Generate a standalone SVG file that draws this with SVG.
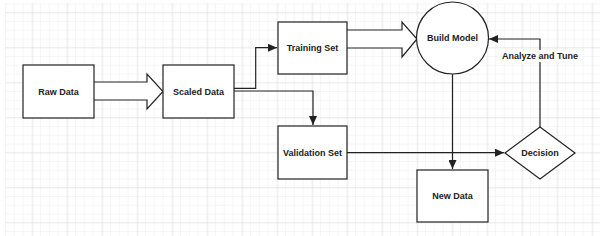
<svg xmlns="http://www.w3.org/2000/svg" width="600" height="236" viewBox="0 0 600 236">
<style>
.box{fill:#fff;stroke:#222;stroke-width:1.2}
.lbl{font-family:"Liberation Sans",Arial,sans-serif;font-size:9px;font-weight:bold;fill:#222;text-anchor:middle;dominant-baseline:central}
.con{fill:none;stroke:#222;stroke-width:1.2}
.blk{fill:#fff;stroke:#222;stroke-width:1.2;stroke-linejoin:miter}
</style>
<defs>
<pattern id="minor" x="5.05" y="3.55" width="8.75" height="8.75" patternUnits="userSpaceOnUse">
<path d="M0 0H8.75M0 0V8.75" fill="none" stroke="#eeeeee" stroke-width="1"/>
</pattern>
<pattern id="major" x="-2.7" y="12.3" width="35" height="35" patternUnits="userSpaceOnUse">
<path d="M0 0H35M0 0V35" fill="none" stroke="#dcdcdc" stroke-width="1"/>
</pattern>
<marker id="arr" markerWidth="10" markerHeight="8" refX="9" refY="4" orient="auto" markerUnits="userSpaceOnUse">
<path d="M0 0L9 4L0 8Z" fill="#222"/>
</marker>
</defs>
<rect width="600" height="236" fill="#fff"/>
<rect x="5" y="3" width="595" height="233" fill="url(#minor)"/>
<rect x="5" y="3" width="595" height="233" fill="url(#major)"/>

<g id="connectors">
<path class="blk" d="M94 82H147V74L163 91.5L147 109V100H94"/>
<path class="blk" d="M347 30H402V22L417 39L402 57V48H347"/>
<path class="con" d="M234 88.3H255.7V47.7H277" marker-end="url(#arr)"/>
<path class="con" d="M234 91H313V125" marker-end="url(#arr)"/>
<path class="con" d="M452.5 74V169" marker-end="url(#arr)"/>
<path class="con" d="M347 152.7H504" marker-end="url(#arr)"/>
<path class="con" d="M540 127V39H489" marker-end="url(#arr)"/>
<rect x="504" y="50" width="72" height="12" fill="#fff"/>
<text class="lbl" x="540" y="56">Analyze and Tune</text>
</g>

<g id="raw-data">
<rect class="box" x="23" y="65" width="71" height="53"/>
<text class="lbl" x="58.5" y="91.5">Raw Data</text>
</g>
<g id="scaled-data">
<rect class="box" x="163" y="65" width="71" height="53"/>
<text class="lbl" x="198.5" y="91.5">Scaled Data</text>
</g>
<g id="training-set">
<rect class="box" x="278" y="22" width="69" height="52"/>
<text class="lbl" x="312.5" y="48">Training Set</text>
</g>
<g id="validation-set">
<rect class="box" x="278" y="126" width="69" height="53"/>
<text class="lbl" x="312.5" y="152.5">Validation Set</text>
</g>
<g id="build-model">
<circle class="box" cx="452.5" cy="38" r="36"/>
<text class="lbl" x="452.5" y="38">Build Model</text>
</g>
<g id="new-data">
<rect class="box" x="417" y="170" width="71" height="52"/>
<text class="lbl" x="452.5" y="195.5">New Data</text>
</g>
<g id="decision">
<path class="box" d="M505 153L540 127L575 153L540 179Z"/>
<text class="lbl" x="540" y="153">Decision</text>
</g>
</svg>
